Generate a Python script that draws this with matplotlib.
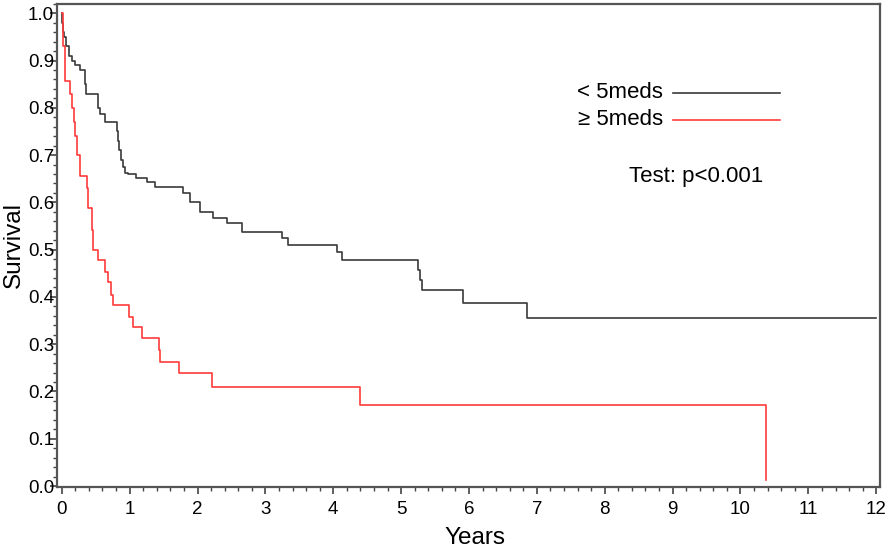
import numpy as np
import matplotlib
matplotlib.use("Agg")
import matplotlib.pyplot as plt
from matplotlib.ticker import MultipleLocator

plt.rcParams['font.family'] = ['Liberation Sans', 'DejaVu Sans']

# Kaplan-Meier step points (years, survival)
lt5_time = [0.0, 0.01, 0.02, 0.04, 0.06, 0.10, 0.15, 0.20, 0.27, 0.34, 0.36,
            0.53, 0.56, 0.63, 0.81, 0.83, 0.85, 0.87, 0.90, 0.93, 0.97,
            1.10, 1.25, 1.37, 1.78, 1.89, 2.03, 2.23, 2.43, 2.65, 3.24,
            3.33, 4.05, 4.13, 5.25, 5.28, 5.31, 5.91, 6.86, 12.0]
lt5_surv = [1.0, 0.98, 0.96, 0.95, 0.93, 0.91, 0.90, 0.89, 0.88, 0.85, 0.83,
            0.80, 0.786, 0.769, 0.75, 0.73, 0.71, 0.69, 0.675, 0.663, 0.659,
            0.652, 0.643, 0.632, 0.62, 0.60, 0.58, 0.568, 0.557, 0.537, 0.525,
            0.51, 0.494, 0.478, 0.457, 0.436, 0.415, 0.388, 0.356, 0.356]

ge5_time = [0.0, 0.02, 0.044, 0.12, 0.15, 0.18, 0.20, 0.22, 0.265, 0.37,
            0.39, 0.44, 0.46, 0.53, 0.63, 0.68, 0.73, 0.75, 0.99, 1.05,
            1.18, 1.43, 1.45, 1.72, 2.21, 4.39, 10.37]
ge5_surv = [1.0, 0.93, 0.856, 0.83, 0.80, 0.77, 0.74, 0.70, 0.655, 0.631,
            0.589, 0.542, 0.50, 0.479, 0.453, 0.432, 0.405, 0.383, 0.358, 0.337,
            0.314, 0.288, 0.263, 0.239, 0.21, 0.172, 0.013]

fig = plt.figure(figsize=(8.91, 5.49), dpi=100)
ax = fig.add_axes([0.064, 0.113, 0.924, 0.88])

ax.step(lt5_time, lt5_surv, where='post', color='#3a3a3a', lw=1.2)
ax.step(ge5_time, ge5_surv, where='post', color='#ff3b3b', lw=1.2)

ax.set_xlim(-0.07, 12.06)
ax.set_ylim(-0.002, 1.02)
ax.xaxis.set_major_locator(MultipleLocator(1))
ax.xaxis.set_minor_locator(MultipleLocator(0.2))
ax.yaxis.set_minor_locator(MultipleLocator(0.02))
ax.set_yticks(np.arange(0, 1.01, 0.1))
ax.set_yticklabels(['%.1f' % v for v in np.arange(0, 1.01, 0.1)])

ax.tick_params(axis='both', which='major', labelsize=13.5, length=5, width=1.2,
               color='#444444', direction='out')
ax.tick_params(axis='both', which='minor', length=3, width=1.0,
               color='#444444', direction='out')
ax.tick_params(axis='y', pad=-3)
ax.tick_params(axis='x', pad=5)
for s in ax.spines.values():
    s.set_color('#555555')
    s.set_linewidth(1.6)

ax.set_xlabel('Years', fontsize=17.5)
ax.set_ylabel('Survival', fontsize=17.5)
ax.xaxis.set_label_coords(0.508, -0.082)
ax.yaxis.set_label_coords(-0.039, 0.5)

# legend drawn by hand, as in the original
ax.plot([9.0, 10.58], [0.832, 0.832], color='#3a3a3a', lw=1.2)
ax.plot([9.0, 10.58], [0.775, 0.775], color='#ff3b3b', lw=1.2)
ax.text(8.86, 0.832, '< 5meds', fontsize=16, ha='right', va='center')
ax.text(8.86, 0.775, '\u2265 5meds', fontsize=16, ha='right', va='center')
ax.text(8.35, 0.655, 'Test: p<0.001', fontsize=16, ha='left', va='center')

fig.savefig('out.png', dpi=100)
